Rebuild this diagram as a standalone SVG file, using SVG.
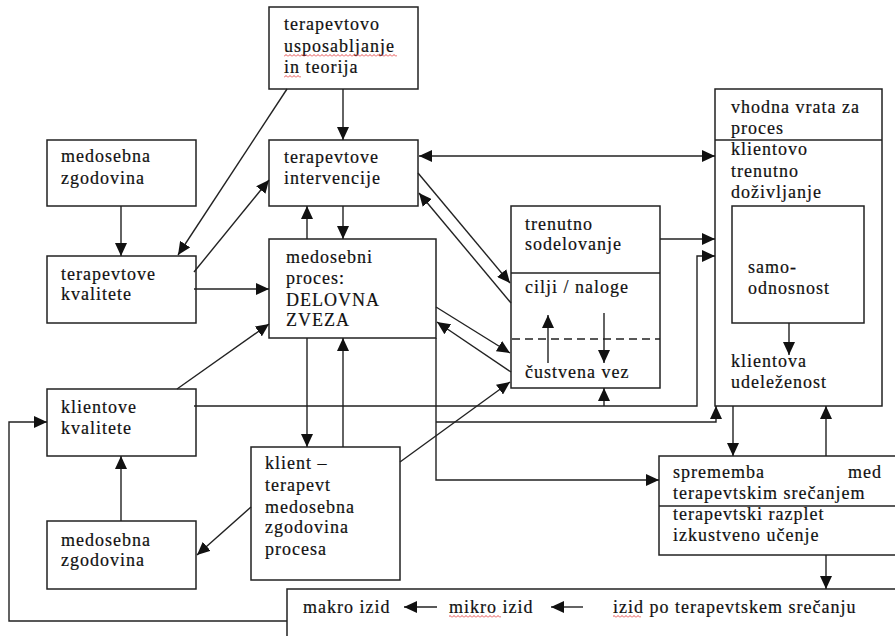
<svg xmlns="http://www.w3.org/2000/svg" width="895" height="636" viewBox="0 0 895 636">
<style>
.box{fill:#fff;stroke:#222;stroke-width:1.5}
.div{stroke:#222;stroke-width:1.5;fill:none}
.dash{stroke:#222;stroke-width:1.3;stroke-dasharray:8 5;fill:none}
.t{font-family:"Liberation Serif","Times New Roman",serif;font-size:18px;letter-spacing:1px;fill:#111;stroke:#111;stroke-width:0.2}
.c path{fill:none;stroke:#222;stroke-width:1.4;marker-end:url(#ah)}
.c path.both{marker-start:url(#ah2)}
.sq{fill:url(#wave)}
</style>
<defs>
<marker id="ah" markerUnits="userSpaceOnUse" markerWidth="13" markerHeight="12" refX="13" refY="6" orient="auto"><path d="M0,0 L13,6 L0,12 z" fill="#111"/></marker>
<marker id="ah2" markerUnits="userSpaceOnUse" markerWidth="13" markerHeight="12" refX="13" refY="6" orient="auto-start-reverse"><path d="M0,0 L13,6 L0,12 z" fill="#111"/></marker>
<pattern id="wave" patternUnits="userSpaceOnUse" width="4" height="3"><path d="M0,2.5 L2,0.5 L4,2.5" fill="none" stroke="#e02020" stroke-width="0.8"/></pattern>
</defs>
<rect width="895" height="636" fill="#fff"/>

<g id="n-usposabljanje">
<rect class="box" x="269" y="7" width="149" height="82"/>
<text class="t"><tspan x="284" y="30">terapevtovo</tspan><tspan x="284" y="52">usposabljanje</tspan><tspan x="284" y="73">in teorija</tspan></text>
<rect class="sq" x="284" y="54" width="113" height="3"/>
<rect class="sq" x="284" y="75" width="17" height="3"/>
</g>
<g id="n-medosebna-zgodovina-1">
<rect class="box" x="47" y="140" width="149" height="66"/>
<text class="t"><tspan x="61" y="162">medosebna</tspan><tspan x="61" y="184">zgodovina</tspan></text>
</g>
<g id="n-intervencije">
<rect class="box" x="269" y="140" width="149" height="66"/>
<text class="t"><tspan x="284" y="163">terapevtove</tspan><tspan x="284" y="184">intervencije</tspan></text>
</g>
<g id="n-terapevtove-kvalitete">
<rect class="box" x="47" y="256" width="149" height="67"/>
<text class="t"><tspan x="61" y="280">terapevtove</tspan><tspan x="61" y="300">kvalitete</tspan></text>
</g>
<g id="n-proces">
<rect class="box" x="269" y="239" width="167" height="99"/>
<text class="t"><tspan x="286" y="263">medosebni</tspan><tspan x="286" y="284">proces:</tspan><tspan x="286" y="306">DELOVNA</tspan><tspan x="286" y="326">ZVEZA</tspan></text>
</g>
<g id="n-trenutno">
<rect class="box" x="511" y="206" width="149" height="182"/>
<line class="div" x1="511" y1="273" x2="660" y2="273"/>
<line class="dash" x1="512" y1="339" x2="660" y2="339"/>
<text class="t"><tspan x="525" y="230">trenutno</tspan><tspan x="525" y="250">sodelovanje</tspan><tspan x="525" y="293">cilji / naloge</tspan><tspan x="525" y="378">čustvena vez</tspan></text>
</g>
<g id="n-vhodna-vrata">
<rect class="box" x="715" y="89" width="167" height="317"/>
<line class="div" x1="715" y1="140" x2="882" y2="140"/>
<text class="t"><tspan x="731" y="113">vhodna vrata za</tspan><tspan x="731" y="134">proces</tspan><tspan x="731" y="155">klientovo</tspan><tspan x="731" y="177">trenutno</tspan><tspan x="731" y="198">doživljanje</tspan><tspan x="731" y="367">klientova</tspan><tspan x="731" y="388">udeleženost</tspan></text>
</g>
<g id="n-samoodnosnost">
<rect class="box" x="732" y="206" width="132" height="117"/>
<text class="t"><tspan x="748" y="273">samo-</tspan><tspan x="748" y="294">odnosnost</tspan></text>
</g>
<g id="n-klientove-kvalitete">
<rect class="box" x="47" y="389" width="149" height="67"/>
<text class="t"><tspan x="61" y="413">klientove</tspan><tspan x="61" y="434">kvalitete</tspan></text>
</g>
<g id="n-klient-terapevt">
<rect class="box" x="251" y="447" width="149" height="133"/>
<text class="t"><tspan x="265" y="469">klient –</tspan><tspan x="265" y="491">terapevt</tspan><tspan x="265" y="513">medosebna</tspan><tspan x="265" y="533">zgodovina</tspan><tspan x="265" y="555">procesa</tspan></text>
</g>
<g id="n-medosebna-zgodovina-2">
<rect class="box" x="47" y="521" width="149" height="68"/>
<text class="t"><tspan x="61" y="546">medosebna</tspan><tspan x="61" y="566">zgodovina</tspan></text>
</g>
<g id="n-sprememba">
<rect class="box" x="659" y="456" width="250" height="99"/>
<line class="div" x1="659" y1="506" x2="900" y2="506"/>
<text class="t"><tspan x="673" y="478">sprememba</tspan><tspan x="848" y="478">med</tspan><tspan x="673" y="499">terapevtskim srečanjem</tspan><tspan x="673" y="520">terapevtski razplet</tspan><tspan x="673" y="541">izkustveno učenje</tspan></text>
</g>
<g id="n-izid">
<rect class="box" x="287" y="589" width="625" height="60"/>
<text class="t"><tspan x="303" y="613">makro izid</tspan><tspan x="449" y="613">mikro izid</tspan><tspan x="613" y="613">izid po terapevtskem srečanju</tspan></text>
<rect class="sq" x="449" y="615" width="52" height="3"/>
<rect class="sq" x="613" y="615" width="28" height="3"/>
</g>

<g id="connectors" class="c">
<path d="M343,89 V140"/>
<path d="M287,89 L178,255"/>
<path d="M121,206 V256"/>
<path d="M194,272 L269,180"/>
<path d="M194,289 H269"/>
<path d="M307,239 V206"/>
<path d="M343,206 V239"/>
<path class="both" d="M419,156 H715"/>
<path d="M418,173 L510,283"/>
<path d="M511,303 L419,193"/>
<path d="M436,307 L510,353"/>
<path d="M511,372 L437,322"/>
<path d="M400,462 L510,382"/>
<path d="M660,239 H715"/>
<path d="M194,406 H697 V256 H715"/>
<path d="M604,406 V388"/>
<path d="M548,363 V315"/>
<path d="M604,313 V363"/>
<path d="M789,323 V355"/>
<path d="M436,338 V480 H659"/>
<path d="M436,422 H716 V406"/>
<path d="M733,406 V456"/>
<path d="M826,456 V406"/>
<path d="M826,555 V589"/>
<path d="M177,389 L269,324"/>
<path d="M307,338 V447"/>
<path d="M343,447 V338"/>
<path d="M121,521 V456"/>
<path d="M251,507 L197,555"/>
<path d="M287,621 H9 V422 H47"/>
<path d="M437,607 H404"/>
<path d="M583,607 H551"/>
</g>
</svg>
